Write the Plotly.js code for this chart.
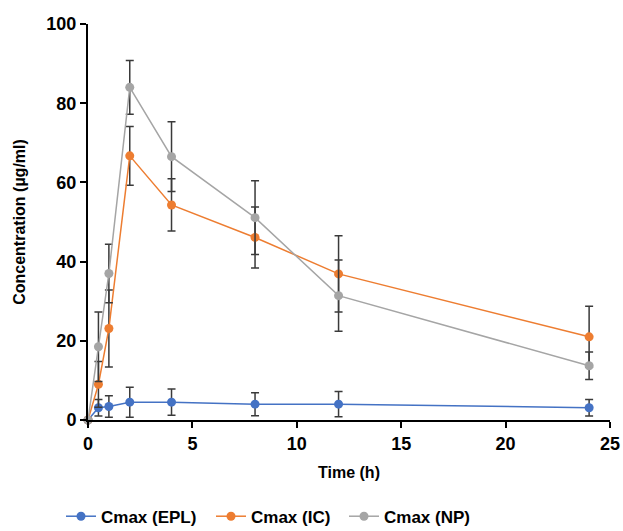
<!DOCTYPE html>
<html>
<head>
<meta charset="utf-8">
<script src="https://cdn.plot.ly/plotly-3.0.1.min.js"></script>
<style>html,body{margin:0;padding:0;background:#fff;}#chart{width:623px;height:531px;}</style>
</head>
<body>
<div id="chart"></div>
<script>
const time = [0, 0.5, 1, 2, 4, 8, 12, 24];
const eplMean = [0, 3.1, 3.4, 4.5, 4.5, 4.0, 4.0, 3.1];
const eplErr  = [0, 2.1, 2.7, 3.8, 3.3, 2.9, 3.2, 2.1];
const icMean  = [0, 9.0, 23.1, 66.7, 54.3, 46.1, 36.9, 21.0];
const icErr   = [0, 5.8, 9.7, 7.4, 6.6, 7.7, 9.6, 7.7];
const npMean  = [0, 18.5, 37.0, 84.0, 66.5, 51.1, 31.4, 13.7];
const npErr   = [0, 8.8, 7.4, 6.8, 8.8, 9.3, 9.0, 3.5];
const seriesNames = ['Cmax (EPL)', 'Cmax (IC)', 'Cmax (NP)'];
const colors = ['#4472C4', '#ED7D31', '#A5A5A5'];

function trace(name, y, err, color, legendId) {
  return {
    x: time, y: y, name: name, type: 'scatter', mode: 'lines+markers',
    cliponaxis: false, legend: legendId,
    line: {color: color, width: 1.5},
    marker: {color: color, size: 9, symbol: 'circle'},
    error_y: {type: 'data', array: err, visible: true, color: '#3a3a3a', thickness: 1.5, width: 4}
  };
}

const data = [
  trace(seriesNames[0], eplMean, eplErr, colors[0], 'legend'),
  trace(seriesNames[1], icMean, icErr, colors[1], 'legend2'),
  trace(seriesNames[2], npMean, npErr, colors[2], 'legend3')
];

const fontFam = 'Liberation Sans, Arial, sans-serif';
function leg(px) {
  return {
    orientation: 'h', xref: 'container', yref: 'container',
    x: px / 623, xanchor: 'left', y: 0.027, yanchor: 'middle',
    font: {family: fontFam, size: 17, color: '#000', weight: 'bold'},
    itemwidth: 30, bgcolor: 'rgba(0,0,0,0)'
  };
}
const layout = {
  width: 623, height: 531,
  margin: {l: 88, r: 13, t: 24, b: 111},
  paper_bgcolor: '#fff', plot_bgcolor: '#fff',
  showlegend: true,
  font: {family: fontFam, color: '#000'},
  xaxis: {
    range: [0, 25], tickvals: [0, 5, 10, 15, 20, 25],
    showgrid: false, zeroline: false, automargin: false,
    showline: true, linecolor: '#000', linewidth: 2,
    ticks: 'outside', ticklen: 6, tickwidth: 2, tickcolor: '#000',
    tickfont: {family: fontFam, size: 18, color: '#000', weight: 'bold'},
    title: {text: '<b>Time (h)</b>', font: {family: fontFam, size: 16, color: '#000'}, standoff: 14}
  },
  yaxis: {
    range: [0, 100], tickvals: [0, 20, 40, 60, 80, 100],
    showgrid: false, zeroline: false, automargin: false,
    showline: true, linecolor: '#000', linewidth: 2,
    ticks: 'outside', ticklen: 6, tickwidth: 2, tickcolor: '#000',
    tickfont: {family: fontFam, size: 18, color: '#000', weight: 'bold'},
    title: {text: '<b>Concentration (µg/ml)</b>', font: {family: fontFam, size: 16, color: '#000'}, standoff: 17}
  },
  legend: leg(61),
  legend2: leg(211),
  legend3: leg(344)
};

Plotly.newPlot('chart', data, layout, {displayModeBar: false, staticPlot: true});
</script>
</body>
</html>
